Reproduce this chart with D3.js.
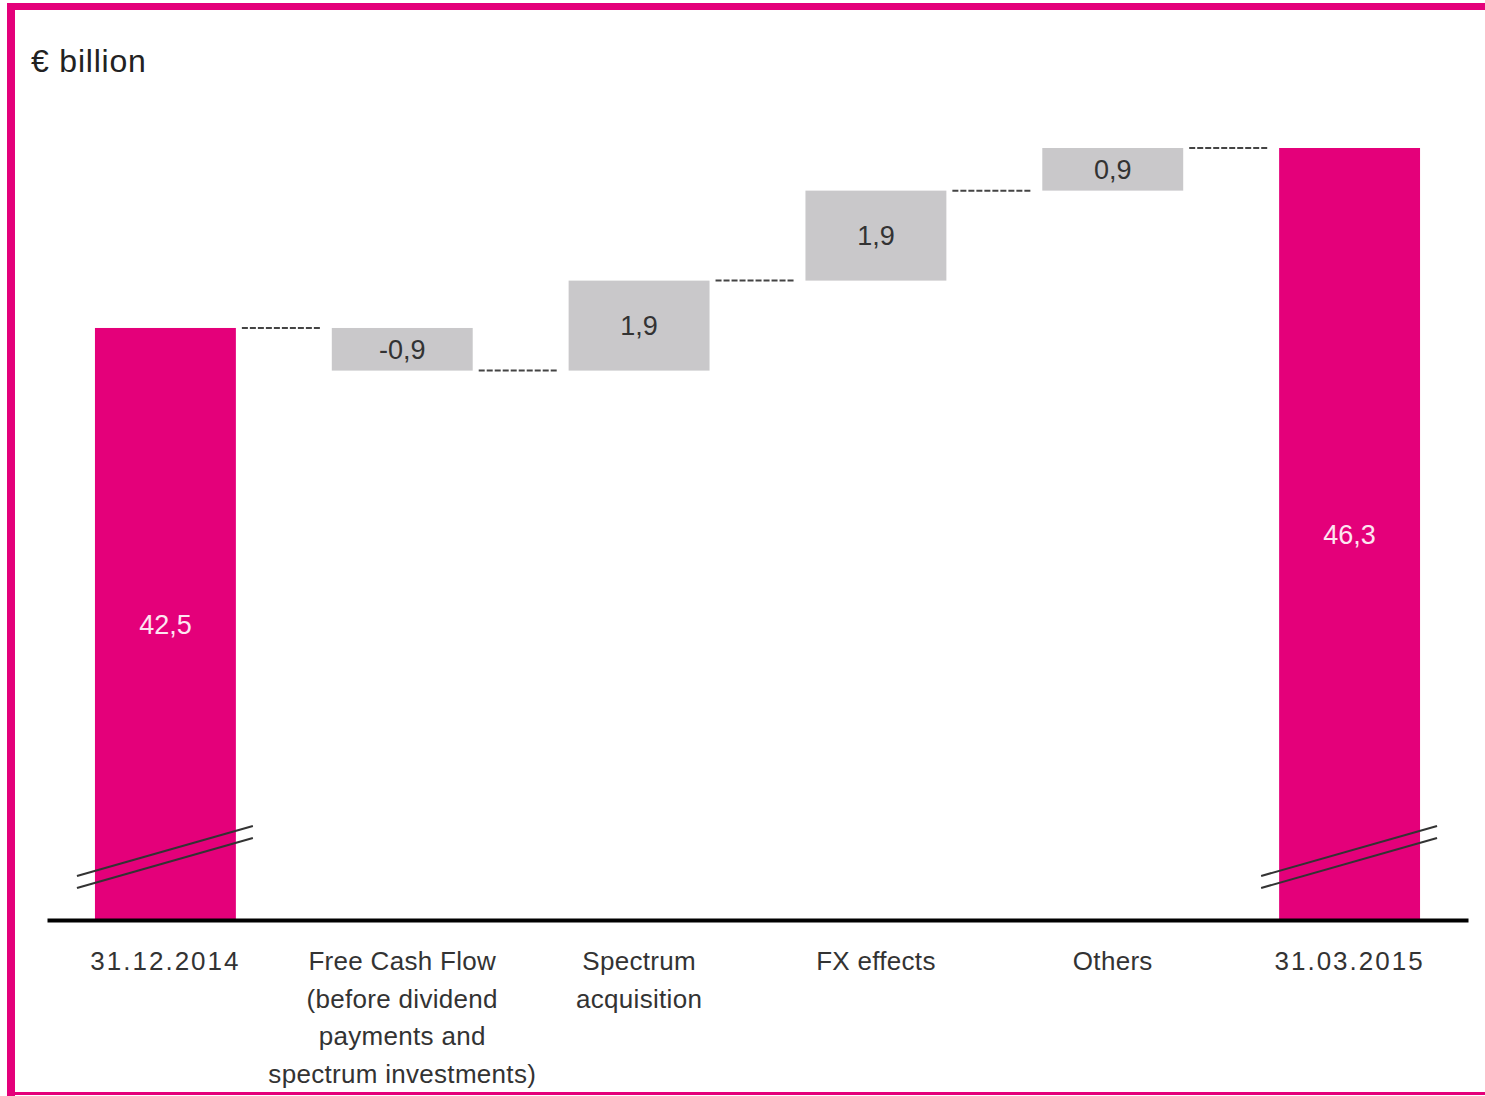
<!DOCTYPE html>
<html lang="en">
<head>
<meta charset="UTF-8">
<script src="https://d3js.org/d3.v7.min.js"></script>
<title>Net debt bridge</title>
<style>
  body { margin: 0; background: #fff; }
  text { font-family: "Liberation Sans", Arial, sans-serif; }
</style>
</head>
<body>
<svg width="1485" height="1096"></svg>
<script>
// data (€ billion)
var categories = [
  ["31.12.2014"],
  ["Free Cash Flow", "(before dividend", "payments and", "spectrum investments)"],
  ["Spectrum", "acquisition"],
  ["FX effects"],
  ["Others"],
  ["31.03.2015"]
];
var values = [42.5, -0.9, 1.9, 1.9, 0.9, 46.3];
var kinds = ["total", "delta", "delta", "delta", "delta", "total"];
var valueLabels = ["42,5", "-0,9", "1,9", "1,9", "0,9", "46,3"];
var axisBase = 30;   // hidden baseline behind the axis break

var magenta = "#e4007a", grey = "#c9c8ca";

var svg = d3.select("svg");

// frame
svg.append("rect").attr("x", 7).attr("y", 3).attr("width", 1478).attr("height", 7).attr("fill", magenta);
svg.append("rect").attr("x", 7).attr("y", 3).attr("width", 8).attr("height", 1093).attr("fill", magenta);
svg.append("rect").attr("x", 7).attr("y", 1092).attr("width", 1478).attr("height", 3).attr("fill", magenta);

svg.append("text").attr("x", 31).attr("y", 72)
  .attr("font-size", 32).attr("letter-spacing", 0.8).attr("fill", "#222").text("€ billion");

// running totals
var steps = [], level = 0;
values.forEach(function(v, i) {
  if (kinds[i] === "total") {
    steps.push({i: i, start: axisBase, end: v, level: v});
    level = v;
  } else {
    var s = level;
    level = +(level + v).toFixed(2);
    steps.push({i: i, start: s, end: level, level: level});
  }
});

var x = d3.scaleBand().domain(d3.range(categories.length))
  .range([47, 1468]).paddingInner(0.405).paddingOuter(0.2025);
var y = d3.scaleLinear().domain([axisBase, 46.3]).range([920, 148]);

// connectors
var conn = steps.slice(0, -1);
svg.selectAll(".conn").data(conn).enter().append("line")
  .attr("class", "conn")
  .attr("x1", function(d) { return x(d.i) + x.bandwidth() + 6; })
  .attr("x2", function(d) { return x(d.i + 1) - 10; })
  .attr("y1", function(d) { return y(d.level); })
  .attr("y2", function(d) { return y(d.level); })
  .attr("stroke", "#444").attr("stroke-width", 2).attr("stroke-dasharray", "6,2");

// bars
svg.selectAll(".bar").data(steps).enter().append("rect")
  .attr("class", "bar")
  .attr("x", function(d) { return x(d.i); })
  .attr("width", x.bandwidth())
  .attr("y", function(d) { return y(Math.max(d.start, d.end)); })
  .attr("height", function(d) { return Math.abs(y(d.start) - y(d.end)); })
  .attr("fill", function(d) { return kinds[d.i] === "total" ? magenta : grey; });

// value labels
svg.selectAll(".val").data(steps).enter().append("text")
  .attr("class", "val")
  .attr("x", function(d) { return x(d.i) + x.bandwidth() / 2; })
  .attr("y", function(d) { return (y(d.start) + y(d.end)) / 2; })
  .attr("dy", "0.36em")
  .attr("text-anchor", "middle")
  .attr("font-size", 27)
  .attr("fill", function(d) { return kinds[d.i] === "total" ? "#fde6f1" : "#333"; })
  .text(function(d) { return valueLabels[d.i]; });

// axis break marks on the total bars
var totals = steps.filter(function(d) { return kinds[d.i] === "total"; });
[0, 12].forEach(function(off) {
  svg.selectAll(".brk" + off).data(totals).enter().append("line")
    .attr("x1", function(d) { return x(d.i) - 18; })
    .attr("x2", function(d) { return x(d.i) + x.bandwidth() + 17; })
    .attr("y1", y(axisBase) - 44 + off)
    .attr("y2", y(axisBase) - 94 + off)
    .attr("stroke", "#333").attr("stroke-width", 2);
});

// x axis
var ax = svg.append("g").attr("transform", "translate(0," + y(axisBase) + ")")
  .call(d3.axisBottom(x).tickSize(0).tickFormat(""));
ax.select(".domain").attr("stroke", "#000").attr("stroke-width", 4);

var lbl = svg.selectAll(".cat").data(categories).enter().append("text")
  .attr("class", "cat")
  .attr("text-anchor", "middle")
  .attr("font-size", 26)
  .attr("letter-spacing", function(d) { return /^[0-9.]+$/.test(d[0]) ? 2 : 0.3; })
  .attr("fill", "#333");
lbl.selectAll("tspan").data(function(d, i) { return d.map(function(t) { return {t: t, i: i}; }); })
  .enter().append("tspan")
  .attr("x", function(d) { return x(d.i) + x.bandwidth() / 2; })
  .attr("y", function(d, j) { return 970 + j * 37.7; })
  .text(function(d) { return d.t; });
</script>
</body>
</html>
